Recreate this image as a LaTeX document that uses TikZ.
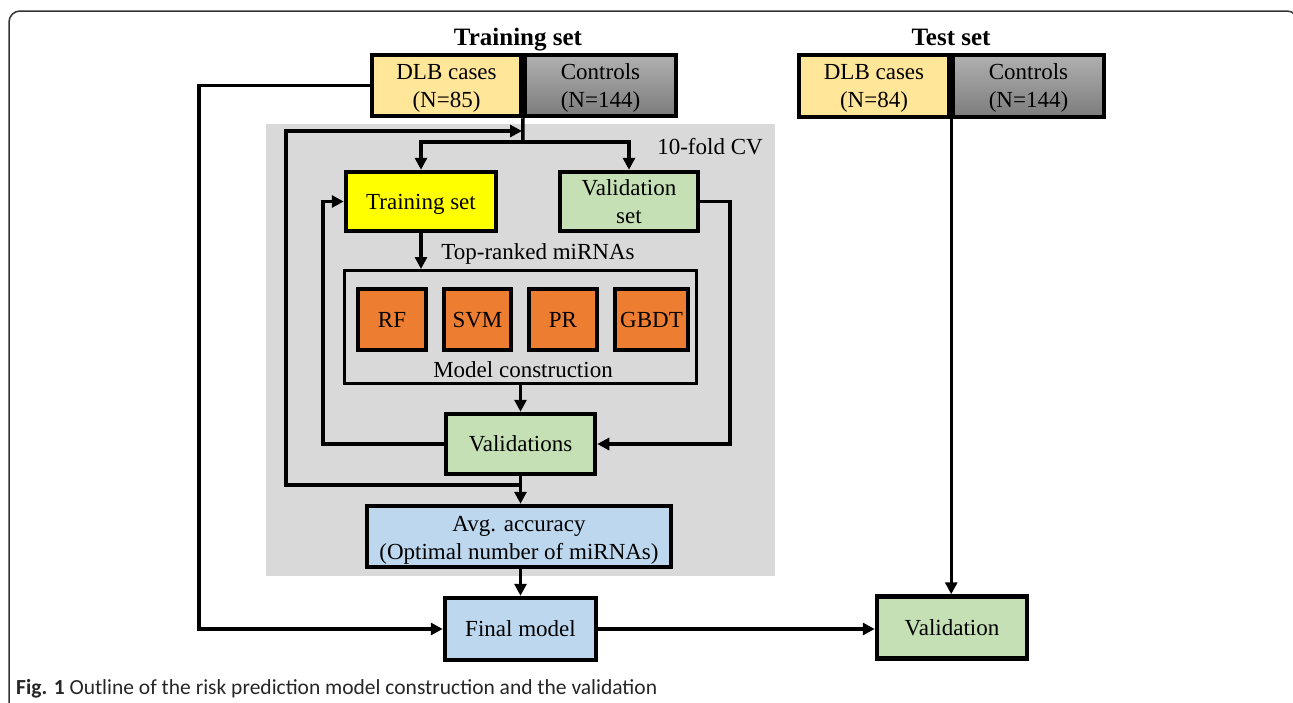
\documentclass[tikz,border=0pt]{standalone}
\usepackage{fontspec}
\setmainfont{Liberation Serif}
\newfontfamily\capfont{Carlito}
\usetikzlibrary{arrows.meta}
\definecolor{dlbc}{HTML}{FFE699}
\definecolor{ctltop}{HTML}{B0B0B0}
\definecolor{ctlbot}{HTML}{7C7C7C}
\definecolor{trainy}{HTML}{FFFF00}
\definecolor{greenc}{HTML}{C5E0B4}
\definecolor{bluec}{HTML}{BDD7EE}
\definecolor{orangec}{HTML}{ED7D31}
\definecolor{cvgray}{HTML}{D9D9D9}
\definecolor{framec}{HTML}{333333}
\begin{document}
\begin{tikzpicture}[x=1pt,y=-1pt,
  box/.style={draw, line width=4.5pt, inner sep=0pt, align=center, font=\fontsize{23}{28}\selectfont},
  sbox/.style={box, text depth=0pt},
  thinbox/.style={draw, line width=3pt, inner sep=0pt},
  conn/.style={line width=3.5pt},
  arr/.style={conn, -{Triangle[length=12pt,width=12pt]}},
  lbl/.style={inner sep=0pt, text depth=0pt, font=\fontsize{23}{28}\selectfont},
  ttl/.style={inner sep=0pt, text depth=0pt, font=\fontsize{25}{30}\selectfont\bfseries}]
\clip (0,0) rectangle (1293,702);
\useasboundingbox (0,0) rectangle (1293,702);
% frame
\draw[framec, line width=1.5pt, rounded corners=11pt] (9,720) -- (9,11) -- (1298,11) -- (1298,720);
% CV region
\fill[cvgray] (266,124) rectangle (775,576);
% titles
\node[ttl] (ttrain) at (518,37) {Training set};
\node[ttl] (ttest) at (951,37) {Test set};
% top boxes
\node[box, fill=dlbc, minimum width=149pt, minimum height=61pt] (trDLB) at (446.5,85.5) {DLB cases\\\smash{(N=85)}};
\node[box, top color=ctltop, bottom color=ctlbot, minimum width=151pt, minimum height=61pt] (trCtl) at (600.5,85.5) {Controls\\\smash{(N=144)}};
\node[box, fill=dlbc, minimum width=150pt, minimum height=62pt] (teDLB) at (874,86) {DLB cases\\\smash{(N=84)}};
\node[box, top color=ctltop, bottom color=ctlbot, minimum width=151pt, minimum height=62pt] (teCtl) at (1028.5,86) {Controls\\\smash{(N=144)}};
% CV boxes
\node[sbox, fill=trainy, minimum width=150pt, minimum height=59pt] (trainset) at (421,201.5) {Training set};
\node[box, fill=greenc, minimum width=138pt, minimum height=59pt] (valset) at (629,201.5) {Validation\\\smash{set}};
\node[thinbox, minimum width=352pt, minimum height=113pt] (model) at (520.5,327) {};
\node[sbox, fill=orangec, minimum width=68pt, minimum height=61pt] (rf) at (392,319.5) {RF};
\node[sbox, fill=orangec, minimum width=67pt, minimum height=61pt] (svm) at (477.5,319.5) {SVM};
\node[sbox, fill=orangec, minimum width=68pt, minimum height=61pt] (pr) at (563,319.5) {PR};
\node[sbox, fill=orangec, minimum width=73pt, minimum height=61pt] (gbdt) at (651.5,319.5) {GBDT};
\node[lbl] (mclbl) at (523,370) {Model construction};
\node[lbl] (toplbl) at (538,252) {Top-ranked miRNAs};
\node[lbl] (cvlbl) at (710,146) {10-fold CV};
\node[sbox, fill=greenc, minimum width=149pt, minimum height=60pt] (validations) at (520.5,444) {Validations};
\node[box, fill=bluec, minimum width=304pt, minimum height=61pt] (avg) at (519,536.5) {\rule{0pt}{17pt}Avg. accuracy\\\smash{(Optimal number of miRNAs)}};
\node[sbox, fill=bluec, minimum width=151pt, minimum height=62pt] (final) at (520.5,629) {Final model};
\node[sbox, fill=greenc, minimum width=150pt, minimum height=62pt] (validation) at (952,627.5) {Validation};
% coordinates
\coordinate (split) at (523,142);
\coordinate (la) at (520,485);
\coordinate (lb) at (286,131);
\coordinate (lc) at (522,131);
\coordinate (lt) at (323,201.5);
\coordinate (rt) at (730,201.5);
\coordinate (ol) at (199,85.5);
% connectors
\draw[conn] (trCtl.south west) -- (split);
\draw[arr] (split) -| (trainset.north);
\draw[arr] (split) -| (valset.north);
\draw[arr] (la) -| (lb) -- (lc);
\draw[arr] (trainset.south) -- (trainset.south |- model.north);
\draw[arr] (model.south -| validations.north) -- (validations.north);
\draw[arr] (validations.west) -| (lt) -- (trainset.west);
\draw[arr] (valset.east) -- (rt) |- (validations.east);
\draw[arr] (validations.south) -- (avg.north -| validations.south);
\draw[arr] (avg.south -| final.north) -- (final.north);
\draw[arr] (trDLB.west) -- (ol) |- (final.west);
\draw[arr] (final.east) -- (final.east -| validation.west);
\draw[arr] (teDLB.south east) -- (teDLB.south east |- validation.north);
% caption
\node[anchor=base west, inner sep=0pt, font=\capfont\fontsize{21.5}{26}\selectfont, text=black!85] (caption) at (16,694) {\textbf{Fig. 1} Outline of the risk prediction model construction and the validation};
\end{tikzpicture}
\end{document}
